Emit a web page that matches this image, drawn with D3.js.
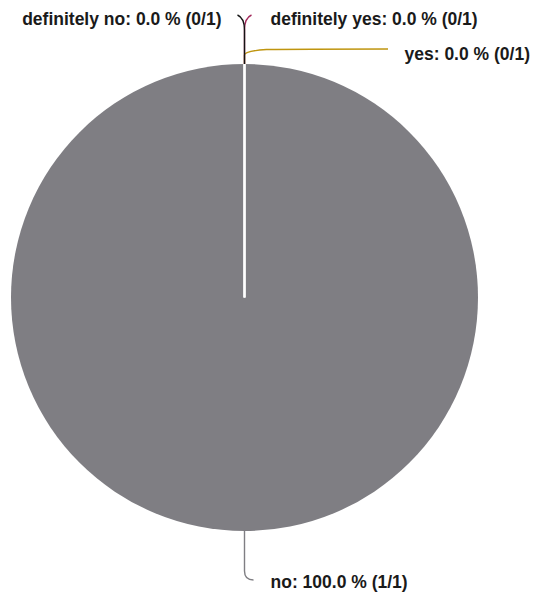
<!DOCTYPE html>
<html><head><meta charset="utf-8">
<script src="https://cdn.jsdelivr.net/npm/d3@7"></script>
<style>
html,body{margin:0;padding:0;background:#fff;}
text{font-family:"Liberation Sans",Arial,Helvetica,sans-serif;font-weight:bold;font-size:17.5px;fill:#1a1a1a;}
</style></head>
<body><svg id="chart" width="535" height="596"></svg>
<script>
const categories = ["definitely no", "definitely yes", "yes", "no"];
const counts = [0, 0, 0, 1];
const total = 1;
const colors = ["#141414", "#a32a5c", "#bf950f", "#7f7e83"];

const W = 535, H = 596, cx = 244.5, cy = 297.5, R = 233.5;
const svg = d3.select("#chart");
const g = svg.append("g").attr("transform", `translate(${cx},${cy})`);

const pie = d3.pie().sort(null).value(d => d.v);
const data = categories.map((c, i) => ({cat: c, v: counts[i], color: colors[i]}));
const arcs = pie(data);
const arc = d3.arc().innerRadius(0).outerRadius(R);

g.selectAll("path.slice").data(arcs.filter(a => a.data.v > 0)).join("path")
  .attr("class", "slice")
  .attr("d", arc)
  .attr("fill", d => d.data.color);

// slice borders (white separators)
const radial = d3.lineRadial();
arcs.filter(a => a.data.v === 0).forEach(a => {
  g.append("path")
    .attr("d", radial([[0, 0], [a.startAngle, R]]))
    .attr("stroke", "#fff").attr("stroke-width", 2).attr("fill", "none");
});

// label layout (positions are layout, not data)
const layout = {
  "definitely no":  {stem: 34, bend: 12, dx: -7, dy: -3, tx: -23, ty: -39, anchor: "end"},
  "definitely yes": {stem: 34, bend: 12, dx: 7, dy: -3, tx: 26, ty: -39, anchor: "start"},
  "yes":            {stem: 9, bend: 4, dx: 22, dy: -1.5, ex: 143.5, ey: -15, tx: 160, ty: -4, anchor: "start"},
  "no":             {stem: 40, bend: 9, dx: 9, dy: 0, tx: 26, ty: 57, anchor: "start"}
};

const fmt = d3.format(".1f");
const order = ["no", "yes", "definitely yes", "definitely no"];
const sorted = order.map(c => arcs.find(a => a.data.cat === c));

sorted.forEach(a => {
  const L = layout[a.data.cat];
  const ang = (a.startAngle + a.endAngle) / 2;
  const ux = Math.sin(ang), uy = -Math.cos(ang);
  const x0 = ux * R, y0 = uy * R;
  const x1 = ux * (R + L.stem), y1 = uy * (R + L.stem);
  const x2 = ux * (R + L.stem + L.bend), y2 = uy * (R + L.stem + L.bend);
  const ex = x2 + L.dx, ey = y2 + (uy < 0 ? L.dy : -L.dy);
  let p = `M${x0},${y0}L${x1},${y1}Q${x2},${y2} ${ex},${ey}`;
  if (L.ex !== undefined) p += `Q${ex + 30},${y0 + L.ey} ${L.ex},${y0 + L.ey}`;
  g.append("path").attr("d", p).attr("fill", "none")
    .attr("stroke", a.data.color).attr("stroke-width", 1.4);
  g.append("text")
    .attr("x", L.tx).attr("y", y0 + L.ty)
    .attr("text-anchor", L.anchor)
    .text(`${a.data.cat}: ${fmt(a.data.v / total * 100)} % (${a.data.v}/${total})`);
});
</script></body></html>
